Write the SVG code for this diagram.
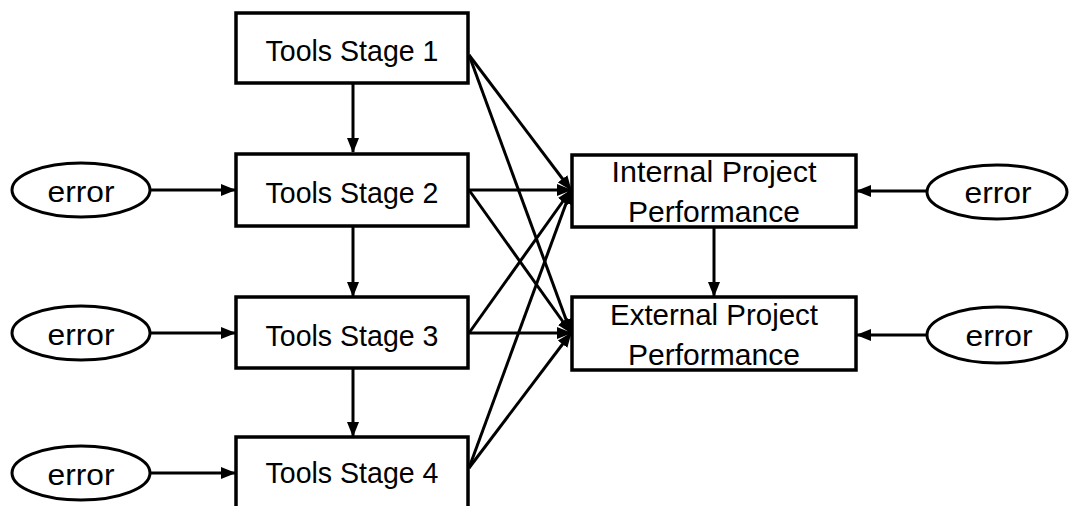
<svg xmlns="http://www.w3.org/2000/svg" width="1070" height="506" viewBox="0 0 1070 506">
<style>
.box{fill:#fff;stroke:#000;stroke-width:3.5}
.ell{fill:#fff;stroke:#000;stroke-width:3}
.t{font-family:"Liberation Sans",Arial,sans-serif;font-size:30px;fill:#000;text-anchor:middle}
.c{stroke:#000;stroke-width:3;fill:none;marker-end:url(#ah)}
</style>
<defs>
<marker id="ah" markerUnits="userSpaceOnUse" markerWidth="16" markerHeight="12" refX="14" refY="6" orient="auto">
<path d="M0,0 L15,6 L0,12 z" fill="#000"/>
</marker>
</defs>
<rect width="1070" height="506" fill="#fff"/>
<g id="connectors">
<line class="c" x1="353" y1="83" x2="353" y2="152"/>
<line class="c" x1="353" y1="226" x2="353" y2="296"/>
<line class="c" x1="353" y1="368" x2="353" y2="436"/>
<line class="c" x1="151" y1="190" x2="235" y2="190"/>
<line class="c" x1="151" y1="333" x2="235" y2="333"/>
<line class="c" x1="151" y1="473" x2="235" y2="473"/>
<line class="c" x1="927" y1="191" x2="857" y2="191"/>
<line class="c" x1="927" y1="335" x2="857" y2="335"/>
<line class="c" x1="714" y1="227" x2="714" y2="296"/>
<line class="c" x1="469" y1="55" x2="571" y2="190"/>
<line class="c" x1="469" y1="55" x2="571" y2="333"/>
<line class="c" x1="469" y1="190" x2="571" y2="190"/>
<line class="c" x1="469" y1="190" x2="571" y2="333"/>
<line class="c" x1="469" y1="333" x2="571" y2="190"/>
<line class="c" x1="469" y1="333" x2="571" y2="333"/>
<line class="c" x1="469" y1="468" x2="571" y2="190"/>
<line class="c" x1="469" y1="468" x2="571" y2="333"/>
</g>
<g id="tools1"><rect class="box" x="236" y="13" width="232" height="70"/><text class="t" x="352" y="61" textLength="173" lengthAdjust="spacingAndGlyphs">Tools Stage 1</text></g>
<g id="tools2"><rect class="box" x="236" y="154" width="232" height="72"/><text class="t" x="352" y="203" textLength="173" lengthAdjust="spacingAndGlyphs">Tools Stage 2</text></g>
<g id="tools3"><rect class="box" x="236" y="297" width="232" height="71"/><text class="t" x="352" y="346" textLength="173" lengthAdjust="spacingAndGlyphs">Tools Stage 3</text></g>
<g id="tools4"><rect class="box" x="236" y="437" width="232" height="75"/><text class="t" x="352" y="483" textLength="173" lengthAdjust="spacingAndGlyphs">Tools Stage 4</text></g>
<g id="err2"><ellipse class="ell" cx="81" cy="190" rx="69" ry="27"/><text class="t" x="81" y="202" textLength="67" lengthAdjust="spacingAndGlyphs">error</text></g>
<g id="err3"><ellipse class="ell" cx="81" cy="333" rx="69" ry="27"/><text class="t" x="81" y="345" textLength="67" lengthAdjust="spacingAndGlyphs">error</text></g>
<g id="err4"><ellipse class="ell" cx="81" cy="473" rx="69" ry="27"/><text class="t" x="81" y="485" textLength="67" lengthAdjust="spacingAndGlyphs">error</text></g>
<g id="internal"><rect class="box" x="572" y="155" width="284" height="72"/><text class="t" x="714" y="182" textLength="205" lengthAdjust="spacingAndGlyphs">Internal Project</text><text class="t" x="714" y="222" textLength="172" lengthAdjust="spacingAndGlyphs">Performance</text></g>
<g id="external"><rect class="box" x="572" y="297" width="284" height="73"/><text class="t" x="714" y="325" textLength="208" lengthAdjust="spacingAndGlyphs">External Project</text><text class="t" x="714" y="365" textLength="172" lengthAdjust="spacingAndGlyphs">Performance</text></g>
<g id="errInt"><ellipse class="ell" cx="997" cy="192" rx="70" ry="27"/><text class="t" x="998" y="203" textLength="67" lengthAdjust="spacingAndGlyphs">error</text></g>
<g id="errExt"><ellipse class="ell" cx="997" cy="335" rx="70" ry="28"/><text class="t" x="999" y="346" textLength="67" lengthAdjust="spacingAndGlyphs">error</text></g>
</svg>
